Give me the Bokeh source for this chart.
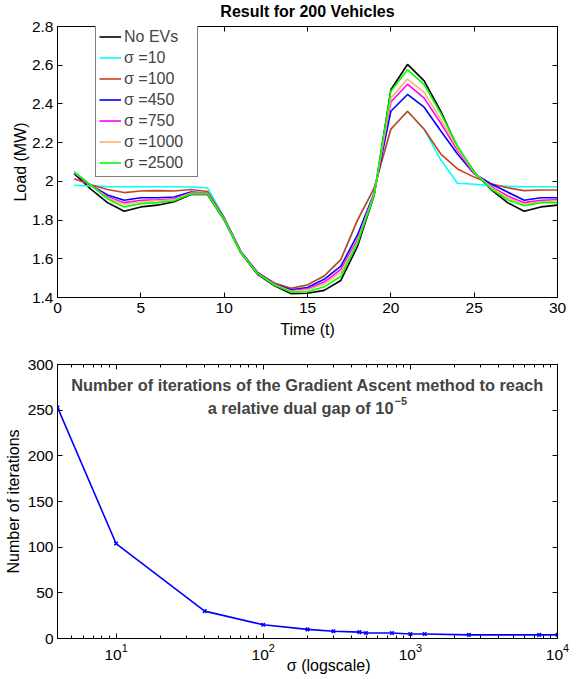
from bokeh.plotting import figure
from bokeh.models import (Legend, LegendItem, Label, LinearAxis, LogAxis, FixedTicker, Title,
                          Range1d, ColumnDataSource, CustomLabelingPolicy, BasicTickFormatter)
from bokeh.layouts import column
from bokeh.embed import file_html
from bokeh.resources import INLINE

# ---------------- data: top chart ----------------
time_t = list(range(1, 31))
load_no_ev = [2.04, 1.96, 1.89, 1.846, 1.868, 1.877, 1.895, 1.932, 1.932, 1.80,
              1.63, 1.52, 1.462, 1.42, 1.422, 1.437, 1.488, 1.664, 1.928, 2.473,
              2.604, 2.519, 2.362, 2.175, 2.05, 1.958, 1.89, 1.846, 1.868, 1.877]
load_s10 = [1.98, 1.976, 1.973, 1.972, 1.972, 1.972, 1.972, 1.971, 1.966, 1.812,
            1.638, 1.53, 1.475, 1.448, 1.465, 1.511, 1.596, 1.80, 1.965, 2.269,
            2.362, 2.269, 2.11, 1.99, 1.985, 1.978, 1.974, 1.972, 1.972, 1.972]
load_s100 = [2.013, 1.982, 1.958, 1.942, 1.95, 1.952, 1.95, 1.958, 1.948, 1.812,
             1.638, 1.53, 1.475, 1.448, 1.465, 1.511, 1.596, 1.80, 1.965, 2.269,
             2.362, 2.269, 2.141, 2.064, 2.022, 1.988, 1.967, 1.952, 1.955, 1.955]
load_s450 = [2.04, 1.98, 1.93, 1.902, 1.915, 1.915, 1.919, 1.945, 1.94, 1.808,
             1.635, 1.528, 1.47, 1.44, 1.452, 1.494, 1.562, 1.723, 1.94, 2.362,
             2.449, 2.383, 2.26, 2.141, 2.039, 1.988, 1.945, 1.902, 1.915, 1.915]
load_s750 = [2.045, 1.98, 1.92, 1.89, 1.902, 1.905, 1.91, 1.94, 1.94, 1.805,
             1.633, 1.526, 1.468, 1.435, 1.445, 1.48, 1.545, 1.70, 1.935, 2.41,
             2.502, 2.43, 2.30, 2.16, 2.04, 1.975, 1.925, 1.89, 1.902, 1.905]
load_s1000 = [2.048, 1.98, 1.915, 1.882, 1.895, 1.9, 1.905, 1.938, 1.938, 1.804,
              1.632, 1.525, 1.467, 1.432, 1.44, 1.47, 1.53, 1.69, 1.933, 2.43,
              2.528, 2.46, 2.32, 2.17, 2.045, 1.97, 1.915, 1.882, 1.895, 1.9]
load_s2500 = [2.05, 1.98, 1.91, 1.868, 1.885, 1.89, 1.90, 1.935, 1.935, 1.803,
              1.631, 1.523, 1.465, 1.428, 1.43, 1.455, 1.51, 1.68, 1.93, 2.465,
              2.577, 2.50, 2.35, 2.183, 2.048, 1.962, 1.905, 1.874, 1.89, 1.89]
series_labels = ["No EVs", "σ =10", "σ =100", "σ =450", "σ =750", "σ =1000", "σ =2500"]
series_values = [load_no_ev, load_s10, load_s100, load_s450, load_s750, load_s1000, load_s2500]
series_colors = ["#000000", "#00FFFF", "#D2401A", "#0000FF", "#FF00FF", "#FFB070", "#00FF00"]

top_xticks = [0, 5, 10, 15, 20, 25, 30]
top_yticks = [1.4, 1.6, 1.8, 2.0, 2.2, 2.4, 2.6, 2.8]
top_ytick_labels = ["1.4", "1.6", "1.8", "2", "2.2", "2.4", "2.6", "2.8"]

# ---------------- data: bottom chart ----------------
sigma = [4, 10, 40, 100, 200, 300, 450, 500, 750, 1000, 1250, 2500, 7500, 10000]
iterations = [253, 104, 30, 15, 10, 8, 7, 6, 6, 5, 5, 4, 4, 4]
bot_xticks = [10, 100, 1000, 10000]
bot_xminor = [m * 10 ** k for k in range(0, 4) for m in range(2, 10) if 4 <= m * 10 ** k <= 10000]
bot_yticks = [0, 50, 100, 150, 200, 250, 300]

FONT = "Liberation Sans"
TICK_FS = "15.5px"
LABEL_FS = "16px"

NO_LABELS = CustomLabelingPolicy(code="""
const n = indices.size
for (let i = 0; i < n; i++) indices.unset(i)
return indices
""")


def style_axes(p):
    for ax in p.axis:
        ax.major_label_text_font = FONT
        ax.major_label_text_font_size = TICK_FS
        ax.major_label_text_color = "black"
        ax.axis_label_text_font = FONT
        ax.axis_label_text_font_size = LABEL_FS
        ax.axis_label_text_font_style = "normal"
        ax.axis_label_text_color = "black"
        ax.major_tick_in = 5
        ax.major_tick_out = 0
        ax.minor_tick_in = 0
        ax.minor_tick_out = 0
        ax.axis_line_color = "black"
        ax.major_tick_line_color = "black"


def mirror_axis(cls, ticks, minor=None, **kw):
    tk = FixedTicker(ticks=ticks, minor_ticks=minor or [])
    return cls(ticker=tk, major_label_text_font_size="1px", major_label_standoff=0,
               major_label_policy=NO_LABELS, formatter=BasicTickFormatter(), **kw)


# ---------------- top figure ----------------
p1 = figure(width=569, height=340, output_backend="svg", toolbar_location=None,
            x_range=Range1d(0, 30), y_range=Range1d(1.4, 2.8),
            min_border_left=57, min_border_right=12, min_border_top=26, min_border_bottom=40)
p1.xgrid.visible = False
p1.ygrid.visible = False
p1.outline_line_color = "black"
p1.outline_line_width = 1
p1.background_fill_color = "white"
p1.border_fill_color = "white"
p1.title.text = "Result for 200 Vehicles"
p1.title.align = "center"
p1.title.text_font = FONT
p1.title.text_font_size = "16px"
p1.title.text_font_style = "bold"
p1.title.text_color = "black"
p1.title.standoff = -3

p1.xaxis.ticker = FixedTicker(ticks=top_xticks)
p1.yaxis.ticker = FixedTicker(ticks=top_yticks)
p1.yaxis.major_label_overrides = {v: s for v, s in zip(top_yticks, top_ytick_labels)}
p1.xaxis.axis_label = "Time (t)"
p1.yaxis.axis_label = "Load (MW)"
style_axes(p1)
p1.add_layout(mirror_axis(LinearAxis, top_yticks, major_tick_in=5, major_tick_out=0), "right")
p1.add_layout(mirror_axis(LinearAxis, top_xticks, major_tick_in=5, major_tick_out=0), "above")
p1.xaxis[0].major_label_standoff = 4
p1.xaxis[0].axis_label_standoff = 0
p1.yaxis[0].major_label_standoff = 4
p1.yaxis[0].axis_label_standoff = 0

items = []
for lab, vals, col in zip(series_labels, series_values, series_colors):
    src = ColumnDataSource(data=dict(t=time_t, v=vals))
    r = p1.line("t", "v", source=src, line_color=col, line_width=1.6)
    items.append(LegendItem(label=lab, renderers=[r]))

legend = Legend(items=items, location=(38, 120), orientation="vertical",
                label_text_font=FONT, label_text_font_size="16px",
                glyph_width=22, glyph_height=21, label_height=21, label_width=70,
                spacing=0, padding=3, margin=0, label_standoff=3,
                border_line_color="black", border_line_width=1,
                background_fill_color="white", background_fill_alpha=1.0)
p1.add_layout(legend, "center")

# ---------------- bottom figure ----------------
p2 = figure(width=569, height=339, output_backend="svg", toolbar_location=None,
            x_axis_type="log", x_range=Range1d(4, 10000), y_range=Range1d(0, 300),
            min_border_left=57, min_border_right=12, min_border_top=24, min_border_bottom=41)
p2.xgrid.visible = False
p2.ygrid.visible = False
p2.outline_line_color = "black"
p2.outline_line_width = 1
p2.background_fill_color = "white"
p2.border_fill_color = "white"
p2.xaxis.ticker = FixedTicker(ticks=bot_xticks, minor_ticks=bot_xminor)
p2.yaxis.ticker = FixedTicker(ticks=bot_yticks)
p2.yaxis.axis_label = "Number of iterations"
style_axes(p2)
p2.xaxis.minor_tick_in = 3
p2.xaxis.minor_tick_line_color = "black"
p2.add_layout(mirror_axis(LinearAxis, bot_yticks, major_tick_in=5, major_tick_out=0), "right")
p2.add_layout(mirror_axis(LogAxis, bot_xticks, bot_xminor, major_tick_in=5, major_tick_out=0,
                          minor_tick_in=3, minor_tick_out=0), "above")
p2.xaxis[0].major_label_standoff = 4
p2.yaxis[0].major_label_standoff = 4
p2.yaxis[0].axis_label_standoff = 3

p2.add_layout(Title(text="σ (logscale)", align="right", offset=187, standoff=-15,
                    text_font=FONT, text_font_size=LABEL_FS, text_font_style="normal",
                    text_color="black"), "below")

src2 = ColumnDataSource(data=dict(s=sigma, n=iterations))
p2.line("s", "n", source=src2, line_color="#0000FF", line_width=1.6)
p2.scatter("s", "n", source=src2, marker="x", size=5, line_color="#0000FF", line_width=1.5)

p2.add_layout(Label(x=200, y=278, text="Number of iterations of the Gradient Ascent method to reach",
                    text_font=FONT, text_font_size="16.4px", text_font_style="bold",
                    text_align="center", text_baseline="middle"))
p2.add_layout(Label(x=200, y=252, x_offset=86, text="a relative dual gap of 10",
                    text_font=FONT, text_font_size="16.4px", text_font_style="bold",
                    text_align="right", text_baseline="middle"))
p2.add_layout(Label(x=200, y=252, x_offset=87, y_offset=7, text="−5",
                    text_font=FONT, text_font_size="11px", text_font_style="bold",
                    text_align="left", text_baseline="middle"))

layout = column(p1, p2, spacing=0)
open("out.html", "w").write(file_html(layout, INLINE))
